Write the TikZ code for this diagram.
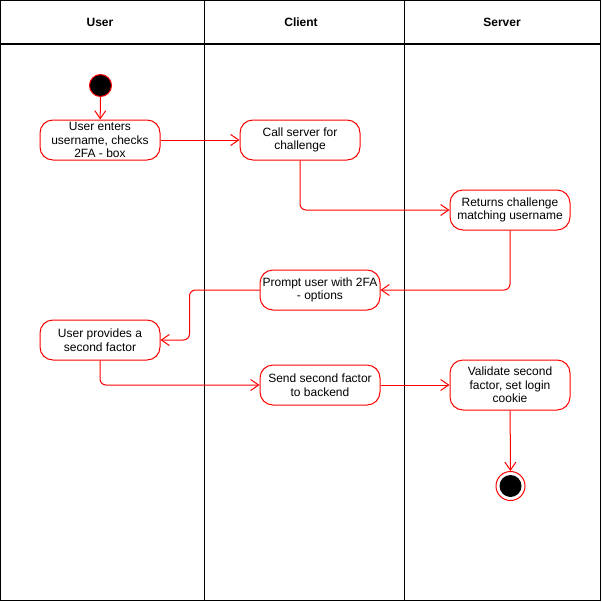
\documentclass[tikz,border=0pt]{standalone}
\usepackage{fontspec}
\setmainfont{Liberation Sans}
\usetikzlibrary{arrows.meta}
\begin{document}
\begin{tikzpicture}[x=1pt,y=-1pt,
  lane/.style={draw=black,line width=1.3pt},
  act/.style={draw=red,line width=1pt,fill=white,rounded corners=13pt,
    minimum width=120pt,minimum height=40pt,align=center,inner sep=2pt,
    font=\fontsize{12}{13.5}\selectfont},
  flow/.style={draw=red,line width=1pt,rounded corners=6pt,
    -{Straight Barb[length=8pt,width=11pt]}},
  head/.style={font=\bfseries\fontsize{12}{14}\selectfont}]
\useasboundingbox (0,0) rectangle (602,602);

% swimlane frame
\draw[lane] (0.8,0.8) rectangle (600.5,600.3);
\draw[lane] (0.8,44) -- (600.5,44);
\draw[lane] (204.5,0.8) -- (204.5,600.3);
\draw[lane] (404.5,0.8) -- (404.5,600.3);
\node[head] (hUser) at (100,22) {User};
\node[head] (hClient) at (301,22) {Client};
\node[head] (hServer) at (502,22) {Server};

% activities
\node[circle,draw=red,fill=black,minimum size=22pt,inner sep=0pt,line width=1pt] (start) at (100.5,85.5) {};
\node[act] (n1) at (100,140) {User enters\\username, checks\\2FA - box};
\node[act] (n2) at (300,140) {Call server for\\challenge};
\node[act] (n3) at (510,210) {Returns challenge\\matching username};
\node[act] (n4) at (320,290) {Prompt user with 2FA\\- options};
\node[act] (n5) at (100,340) {User provides a\\second factor};
\node[act] (n6) at (320,385) {Send second factor\\to backend};
\node[act,minimum height=50pt] (n7) at (510,385) {Validate second\\factor, set login\\cookie};
\node[circle,draw=red,line width=1pt,minimum size=29pt,inner sep=0pt] (stop) at (510.5,486) {};
\node[circle,fill=black,minimum size=22pt,inner sep=0pt] (stopcore) at (stop) {};

% control flow
\draw[flow] (start) -- (n1);
\draw[flow] (n1) -- (n2);
\draw[flow] (n2.south) |- (n3.west);
\draw[flow] (n3.south) |- (n4.east);
\draw[flow] (n4.west) -- ++(-70,0) |- (n5.east);
\draw[flow] (n5.south) |- (n6.west);
\draw[flow] (n6) -- (n7);
\draw[flow] (n7) -- (stop);
\end{tikzpicture}
\end{document}
